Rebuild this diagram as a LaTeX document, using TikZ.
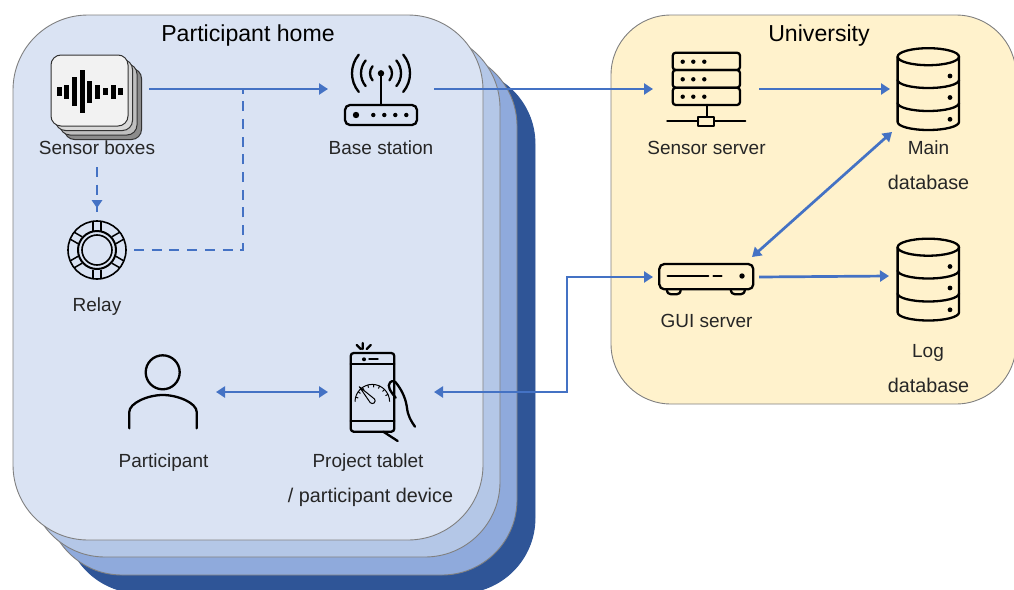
\documentclass[tikz,border=0pt]{standalone}
\usepackage{fontspec}
\setmainfont{Liberation Sans}
\usetikzlibrary{arrows.meta}
\definecolor{linkblue}{HTML}{4472C4}
\definecolor{txt}{HTML}{262626}
\definecolor{cardA}{HTML}{DAE3F3}
\definecolor{cardB}{HTML}{B4C7E7}
\definecolor{cardC}{HTML}{8FAADC}
\definecolor{cardD}{HTML}{2F5597}
\definecolor{uni}{HTML}{FFF2CC}
\tikzset{
  card/.style={draw=black!50,line width=0.9pt,rounded corners=75pt},
  icon/.style={draw=black,line width=2.3pt,line cap=round,line join=round},
  thinicon/.style={draw=black,line width=1pt},
  lbl/.style={font=\fontsize{19}{19}\selectfont,text=txt,inner sep=0pt},
  lblwide/.style={font=\fontsize{19.8}{19.8}\selectfont,text=txt,inner sep=0pt},
  ttl/.style={font=\fontsize{23.1}{23.1}\selectfont,text=black,inner sep=0pt},
  anchorbox/.style={inner sep=0pt,outer sep=0pt,rectangle,minimum width=#1,minimum height=40pt},
  link/.style={draw=linkblue,line width=2.7pt,-{Triangle[length=9pt,width=11pt]}},
  linkboth/.style={draw=linkblue,line width=2.7pt,{Triangle[length=9pt,width=11pt]}-{Triangle[length=9pt,width=11pt]}},
  dashlink/.style={draw=linkblue,line width=2.7pt,dash pattern=on 10pt off 7.7pt},
}
\newcommand{\dbicon}[1]{%
  \begin{scope}[shift={(0,#1)}]
    \draw[icon] (928.3,56.7) ellipse [x radius=30.7,y radius=8.5];
    \draw[icon] (897.6,56.7) -- (897.6,122) arc[start angle=180,end angle=0,x radius=30.7,y radius=8] -- (959,56.7);
    \draw[icon] (897.6,80) arc[start angle=180,end angle=0,x radius=30.7,y radius=8];
    \draw[icon] (897.6,103) arc[start angle=180,end angle=0,x radius=30.7,y radius=8];
    \fill (950,76) circle (2.4) (950,97.5) circle (2.4) (950,119.3) circle (2.4);
  \end{scope}}
\begin{document}
\begin{tikzpicture}[x=1pt,y=-1pt]
\useasboundingbox (0,0) rectangle (1014,589);
\clip (0,0) rectangle (1014,589);
% stacked cards
\draw[card,draw=cardD,fill=cardD] (65,69) rectangle (535,593);
\draw[card,fill=cardC] (47,51) rectangle (517,575);
\draw[card,fill=cardB] (30,33) rectangle (500,557);
\draw[card,fill=cardA] (13,15) rectangle (483,540);
\draw[card,fill=uni,rounded corners=60pt] (611,15) rectangle (1016,404);
% titles
\node[ttl] (homeT) at (248,35.5) {Participant home};
\node[ttl] (uniT) at (819,35.5) {University};
% sensor boxes icon
\foreach \d/\c in {13.5/black!45,9/black!25,4.5/black!15,0/black!5}{
  \draw[draw=black!80,line width=1pt,fill=\c,rounded corners=10pt] (51+\d,55+\d) rectangle (128+\d,126+\d);}
\foreach \x/\h in {59.3/4.7,66.7/7.2,74.3/14.3,82.3/21.7,89.3/11,97.3/7.2,105.3/3.7,113.3/7.2,120.7/3.7}{
  \fill[black] (\x-2.4,91.7-\h) rectangle (\x+2.4,91.7+\h);}
% relay icon
\draw[icon,line width=1.6pt] (97,250) circle (29) (97,250) circle (15);
\draw[icon,line width=2pt] (97,250) circle (19);
\foreach \a in {30,90,150,210,270,330}{
  \draw[icon,line width=1.5pt,line cap=butt,shift={(97,250)},rotate=\a] (19.5,-4) -- (28.5,-4) (19.5,4) -- (28.5,4);}
% base station icon
\draw[icon,rounded corners=5pt] (345,105) rectangle (417,125);
\draw[icon] (381,73.3) -- (381,105);
\fill (381,73.3) circle (3.2) (356,115) circle (3.2);
\foreach \x in {373.3,384.3,395.3,406.3}{\fill (\x,115) circle (2.2);}
\foreach \r in {11,20,29}{
  \draw[icon] (381,73.3) ++(-40:\r) arc[start angle=-40,end angle=40,radius=\r];
  \draw[icon] (381,73.3) ++(140:\r) arc[start angle=140,end angle=220,radius=\r];}
% tablet icon
\draw[icon,rounded corners=3pt] (350.7,353) rectangle (394.3,431.7);
\draw[icon] (350.7,364.3) -- (394.3,364.3) (350.7,421) -- (394.3,421);
\fill (364,359.3) circle (2);
\draw[icon] (369.3,359.3) -- (377.7,359.3);
\draw[icon] (362.7,343) -- (362.7,349) (356.7,345) -- (360.7,349) (370.7,345) -- (366.7,349);
\draw[thinicon] (355,401.7) arc[start angle=180,end angle=360,radius=17.3];
\foreach \a in {195,215,235,255,275,295,315,335}{\draw[thinicon] (372.3,401.7) ++(\a:14.5) -- ++(\a:2.8);}
\draw[thinicon,line join=round] (359.3,386.7) -- (374.5,399) arc[start angle=-40,end angle=140,radius=2.8] -- cycle;
\draw[icon] (395.7,397.7) .. controls (390,391) and (387,386) .. (390,382.5) .. controls (392.5,380) and (395,381) .. (397,384) .. controls (403,392) and (406,400) .. (407,408) .. controls (408,416) and (411,421) .. (415,426.7);
\draw[icon] (383.3,431.7) -- (397.7,441);
% participant icon
\draw[icon] (162.7,372.3) circle (17);
\draw[icon] (129.3,428.3) -- (129.3,412) .. controls (129.3,403) and (148,395) .. (162.7,395) .. controls (178,395) and (196.7,403) .. (196.7,412) -- (196.7,428.3);
% sensor server icon
\draw[icon,rounded corners=3pt] (672.7,52.7) rectangle (740,70);
\draw[icon,rounded corners=3pt] (672.7,70) rectangle (740,87.7);
\draw[icon,rounded corners=3pt] (672.7,87.7) rectangle (740,105);
\foreach \y in {61.7,79.3,96.7}{\foreach \x in {682.7,693.3,704.3}{\fill (\x,\y) circle (2.2);}}
\draw[icon] (706.7,105) -- (706.7,116.7) (667.3,121.3) -- (698.3,121.3) (714.3,121.3) -- (745.3,121.3);
\draw[icon] (698.3,116.7) rectangle (714.3,126);
% databases
\dbicon{0}
\dbicon{190.5}
% GUI server icon
\draw[icon,rounded corners=5pt] (659.3,264) rectangle (753.3,289.3);
\draw[icon] (667.6,276) -- (708.3,276) (713.5,276) -- (721.5,276);
\fill (742,276) circle (2.7);
\draw[icon] (666.7,289.3) .. controls (667,293) and (669,294.3) .. (671,294.3) -- (676.5,294.3) .. controls (679,294.3) and (680.5,293) .. (680.7,289.3);
\draw[icon] (730.7,289.3) .. controls (731,293) and (733,294.3) .. (735,294.3) -- (740.5,294.3) .. controls (743,294.3) and (744.5,293) .. (745,289.3);
% labels
\node[lbl] (sensorL) at (97,147.5) {Sensor boxes};
\node[lbl] (relayL) at (97,306.5) {Relay};
\node[lbl] (baseL) at (381,147.5) {Base station};
\node[lbl] (personL) at (163.5,462.5) {Participant};
\node[lbl] (tabletL) at (368,462.5) {Project tablet};
\node[lbl,lblwide] (deviceL) at (370.5,497.5) {/ participant device};
\node[lbl] (sserverL) at (706.5,147.5) {Sensor server};
\node[lbl] (mainL) at (928.5,147.5) {Main};
\node[lblwide] (mainLb) at (928.5,182.5) {database};
\node[lbl] (guiL) at (706.5,321) {GUI server};
\node[lbl] (logL) at (928,352.5) {Log};
\node[lblwide] (logLb) at (928.5,385) {database};
% invisible connector anchors around the icons
\node[anchorbox=104pt] (sensor) at (97,89) {};
\node[inner sep=0pt,outer sep=0pt,minimum width=40pt,minimum height=40pt] (sensorB) at (97,147) {};
\node[inner sep=0pt,outer sep=0pt,minimum width=74pt,minimum height=84pt] (relay) at (97,250) {};
\node[anchorbox=106pt] (base) at (381,89) {};
\node[anchorbox=106pt] (sserver) at (706,89) {};
\node[anchorbox=76pt] (maindb) at (928,89) {};
\node[anchorbox=106pt] (gui) at (706,277) {};
\node[anchorbox=78pt] (logdb) at (928,276) {};
\node[anchorbox=106pt] (tablet) at (381,392) {};
\node[anchorbox=106pt] (person) at (163,392) {};
\coordinate (junction) at (243,89);
\coordinate (diagA) at (892,132);
\coordinate (diagB) at (752,257);
\coordinate (bendA) at (567,392);
\coordinate (bendB) at (567,277);
% connectors
\draw[link] (sensor.east) -- (base.west);
\draw[link] (base.east) -- (sserver.west);
\draw[link] (sserver.east) -- (maindb.west);
\draw[link] (gui.east) -- (logdb.west);
\draw[linkboth] (diagA) -- (diagB);
\draw[linkboth,line join=miter] (tablet.east) -- (bendA) -- (bendB) -- (gui.west);
\draw[linkboth] (person.east) -- (tablet.west);
\draw[dashlink] (sensorB.south) -- ([yshift=-8pt]relay.north);
\fill[linkblue] (relay.north) -- ++(-5.5,-8) -- ++(11,0) -- cycle;
\draw[dashlink] (relay.east) -| (junction);
\end{tikzpicture}
\end{document}
